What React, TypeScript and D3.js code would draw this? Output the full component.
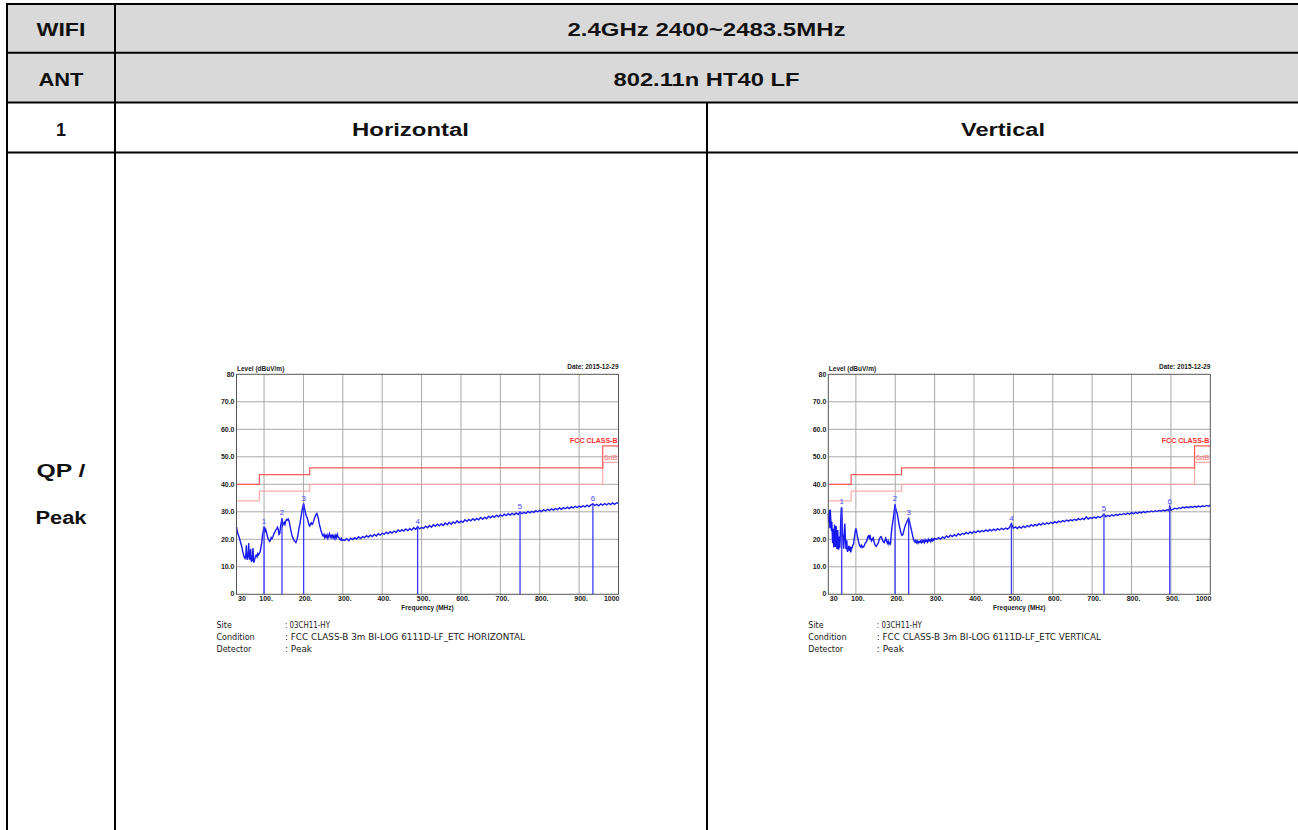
import React from "react";
import * as d3 from "d3";

// ---------- table texts ----------
const ROW_LABELS = ["WIFI", "ANT", "1"];
const BAND_TEXT = "2.4GHz 2400~2483.5MHz";
const MODE_TEXT = "802.11n HT40 LF";
const POL_TITLES = ["Horizontal", "Vertical"];
const DETECTOR_LABEL = ["QP /", "Peak"];

// ---------- chart axes ----------
const X_TICKS = [100, 200, 300, 400, 500, 600, 700, 800, 900];
const X_TICK_LABELS = ["100.", "200.", "300.", "400.", "500.", "600.", "700.", "800.", "900."];
const Y_TICKS = [10, 20, 30, 40, 50, 60, 70];
const Y_TICK_LABELS = ["10.0", "20.0", "30.0", "40.0", "50.0", "60.0", "70.0"];

// ---------- limit lines (FCC Class B) ----------
const LIMIT_FREQ = [30, 88, 216, 960, 1000];
const LIMIT_LEVEL = [40, 43.5, 46, 54, 54];
const MARGIN_LEVEL = [34, 37.5, 40, 48, 48];

// ---------- horizontal trace ----------
const H_TRACE: [number, number][] = [
  [30,24.5],[32,23.0],[34,21.8],[36,21.0],[38,20.2],[40,19.0],[42,18.0],[44,17.0],[46,15.5],[48,14.2],
  [50,13.4],[52,13.0],[54,14.8],[55,17.8],[56,13.5],[58,12.5],[60,15.6],[61,18.6],[62,14.0],[64,12.6],
  [66,16.5],[67,13.2],[68,11.8],[70,12.5],[72,16.8],[73,12.4],[74,11.5],[76,12.6],[78,13.8],[80,14.2],
  [82,13.6],[84,14.8],[86,14.3],[88,15.0],[90,15.4],[92,17.0],[94,18.6],[96,21.5],[98,23.0],[100,24.6],
  [102,22.5],[104,23.6],[106,22.6],[108,21.4],[110,20.2],[112,19.8],[114,19.2],[116,19.6],[118,20.6],[120,20.2],
  [122,20.8],[124,21.6],[126,22.4],[128,22.8],[130,23.4],[132,23.8],[134,24.4],[136,23.6],[138,21.8],[140,22.2],
  [142,24.8],[144,26.4],[145.5,27.6],[147,25.0],[149,25.6],[151,26.2],[153,25.4],[155,26.6],[157,27.2],[159,27.0],
  [161,27.4],[163,26.8],[165,25.6],[167,24.0],[169,22.6],[171,21.4],[173,20.6],[175,20.0],[177,19.4],[179,19.2],
  [181,18.8],[183,19.6],[185,20.8],[187,22.4],[189,24.2],[191,25.6],[193,27.4],[195,29.2],[197,31.0],[199,32.2],
  [200.5,33.0],[202,31.8],[204,30.4],[206,29.0],[208,28.2],[210,27.6],[212,26.4],[214,25.2],[216,24.8],[218,25.6],
  [220,26.0],[222,25.4],[224,25.8],[226,26.6],[228,27.6],[230,28.4],[232,29.0],[234,29.4],[236,28.6],[238,27.4],
  [240,25.8],[242,24.6],[244,23.4],[246,22.6],[248,21.6],[250,21.2],[252,21.8],[254,20.6],[256,21.4],[258,20.8],
  [260,21.6],[262,20.4],[264,21.2],[266,22.0],[268,20.8],[270,21.4],[272,20.6],[274,21.8],[276,20.6],[278,21.2],
  [280,20.2],[282,21.4],[284,20.6],[286,21.8],[288,20.8],[290,20.6],[292,20.0],[294,19.8],[296,20.4],[298,19.6],
  [300,19.8],[305,19.6],[310,20.2],[315,19.5],[320,20.4],[325,19.9],[330,20.6],[335,20.1],[340,20.9],[345,20.3],
  [350,21.0],[355,20.6],[360,21.3],[365,20.8],[370,21.5],[375,21.0],[380,21.8],[385,21.2],[390,22.0],[395,21.5],
  [400,22.2],[405,21.8],[410,22.6],[415,22.0],[420,22.8],[425,22.3],[430,23.0],[435,22.5],[440,23.4],[445,22.8],
  [450,23.5],[455,23.0],[460,23.8],[465,23.2],[470,23.9],[475,23.4],[480,24.2],[485,23.6],[490,24.6],[495,23.8],
  [500,24.3],[505,24.0],[510,24.8],[515,24.2],[520,25.0],[525,24.4],[530,25.3],[535,24.7],[540,25.5],[545,24.9],
  [550,25.6],[555,25.0],[560,25.9],[565,25.3],[570,26.2],[575,25.5],[580,26.3],[585,25.8],[590,26.7],[595,26.0],
  [600,26.6],[605,26.2],[610,27.1],[615,26.5],[620,27.2],[625,26.7],[630,27.5],[635,26.9],[640,27.6],[645,27.1],
  [650,27.9],[655,27.3],[660,28.0],[665,27.5],[670,28.4],[675,27.8],[680,28.5],[685,28.0],[690,28.8],[695,28.2],
  [700,28.9],[705,28.4],[710,29.1],[715,28.6],[720,29.3],[725,28.8],[730,29.4],[735,28.9],[740,29.6],[745,29.0],
  [750,29.9],[755,29.3],[760,29.8],[765,29.4],[770,30.1],[775,29.6],[780,30.2],[785,29.8],[790,30.4],[795,30.0],
  [800,30.5],[805,30.1],[810,30.8],[815,30.3],[820,30.9],[825,30.5],[830,31.1],[835,30.6],[840,31.2],[845,30.8],
  [850,31.4],[855,30.9],[860,31.5],[865,31.1],[870,31.7],[875,31.2],[880,31.8],[885,31.4],[890,32.0],[895,31.5],
  [900,32.1],[905,31.7],[910,32.2],[915,31.8],[920,32.4],[925,31.9],[930,32.5],[935,32.9],[940,32.3],[945,32.7],
  [950,32.2],[955,32.9],[960,32.4],[965,33.0],[970,32.5],[975,33.1],[980,32.6],[985,33.2],[990,32.7],[995,33.3],
  [1000,33.0],
];
const H_MARKERS: [number, number][] = [[100,24.6],[145.5,27.6],[200.5,33.0],[490,24.6],[750,29.9],[935,32.9]];

// ---------- vertical trace ----------
const V_TRACE: [number, number][] = [
  [30,29.4],[31,26.0],[32,30.6],[33,27.0],[34,24.0],[35,30.8],[36,28.2],[37,25.6],[38,23.0],[39,26.4],
  [40,22.2],[41,18.6],[42,23.8],[43,20.4],[44,17.0],[45,21.8],[46,25.4],[47,19.6],[48,17.2],[49,22.6],
  [50,24.8],[51,18.4],[52,16.4],[53,20.6],[54,23.4],[55,18.6],[56,16.2],[57,21.0],[58,18.2],[59,16.8],
  [60,19.4],[61,24.2],[62,28.6],[63,31.3],[64,31.6],[65,27.0],[66,22.2],[67,20.8],[68,18.0],[69,16.6],
  [70,19.8],[71,23.6],[72,25.7],[73,22.0],[74,18.6],[75,16.4],[76,17.8],[77,19.6],[78,16.2],[79,15.4],
  [80,16.8],[81,16.0],[82,17.6],[83,16.4],[84,15.8],[85,17.4],[86,16.2],[87,15.2],[88,16.0],[89,17.2],
  [90,16.6],[92,17.8],[94,18.2],[96,20.4],[98,22.4],[100,24.0],[102,22.8],[104,21.0],[106,19.8],[108,18.4],
  [110,17.6],[112,17.2],[114,17.8],[116,17.0],[118,17.4],[120,17.2],[122,18.0],[124,18.6],[126,19.0],[128,19.6],
  [130,20.8],[132,21.2],[134,20.4],[136,21.6],[138,20.0],[140,19.4],[142,20.2],[144,20.6],[146,19.2],[148,18.2],
  [150,17.6],[152,17.4],[154,18.0],[156,18.4],[158,19.2],[160,20.2],[162,20.8],[164,21.0],[166,20.4],[168,19.6],
  [170,19.0],[172,18.8],[174,19.6],[176,20.4],[178,19.4],[180,18.6],[182,19.4],[184,18.2],[186,18.8],[188,18.4],
  [190,22.0],[192,24.6],[194,26.6],[196,28.6],[198,31.0],[199.5,32.7],[201,31.4],[203,30.2],[205,29.4],[207,27.6],
  [209,26.0],[211,24.6],[213,23.2],[215,22.2],[217,21.4],[219,21.6],[221,22.6],[223,23.8],[225,24.8],[227,25.6],
  [229,26.2],[231,26.8],[233,27.4],[234,27.6],[236,26.6],[238,25.2],[240,24.0],[242,22.8],[244,21.4],[246,20.2],
  [248,19.4],[250,19.0],[252,19.6],[254,18.8],[256,19.4],[258,18.6],[260,19.2],[262,18.9],[264,19.4],[266,18.8],
  [268,19.6],[270,19.0],[272,19.5],[274,18.8],[276,19.8],[278,19.2],[280,19.6],[282,19.0],[284,20.0],[286,19.4],
  [288,19.8],[290,19.2],[292,20.1],[294,19.5],[296,20.2],[298,19.7],[300,20.3],
  [305,20.0],[310,20.6],[315,20.1],[320,20.9],[325,20.4],[330,21.2],[335,20.7],[340,21.5],[345,21.0],
  [350,21.7],[355,21.2],[360,22.0],[365,21.5],[370,22.2],[375,21.8],[380,22.5],[385,22.0],[390,22.7],[395,22.2],
  [400,22.9],[405,22.4],[410,23.1],[415,22.6],[420,23.2],[425,22.8],[430,23.4],[435,22.9],[440,23.6],[445,23.1],
  [450,23.7],[455,23.2],[460,23.9],[465,23.4],[470,24.0],[475,23.5],[480,24.1],[485,23.7],[490,24.3],[495,25.7],
  [500,24.0],[505,24.5],[510,23.9],[515,24.6],[520,24.1],[525,24.8],[530,24.3],[535,25.0],[540,24.5],[545,25.3],
  [550,24.8],[555,25.4],[560,25.0],[565,25.7],[570,25.2],[575,25.9],[580,25.4],[585,26.0],[590,25.6],[595,26.2],
  [600,25.8],[605,26.4],[610,26.0],[615,26.6],[620,26.2],[625,26.8],[630,26.4],[635,27.0],[640,26.6],[645,27.1],
  [650,26.8],[655,27.3],[660,26.9],[665,27.5],[670,27.1],[675,27.6],[680,27.2],[685,28.2],[690,27.4],[695,27.9],
  [700,27.6],[705,28.1],[710,27.7],[715,28.3],[720,27.9],[725,28.4],[730,29.2],[735,28.2],[740,28.7],[745,28.3],
  [750,28.9],[755,28.5],[760,29.1],[765,28.7],[770,29.2],[775,28.9],[780,29.4],[785,29.0],[790,29.5],[795,29.1],
  [800,29.7],[805,29.3],[810,29.8],[815,29.4],[820,29.9],[825,29.6],[830,30.1],[835,29.7],[840,30.2],[845,29.9],
  [850,30.3],[855,30.0],[860,30.4],[865,30.1],[870,30.5],[875,30.2],[880,30.6],[885,30.3],[890,30.7],[895,30.4],
  [897,31.9],[900,30.6],[905,30.9],[910,31.3],[915,31.0],[920,31.5],[925,31.2],[930,31.7],[935,31.4],[940,31.8],
  [945,31.5],[950,31.9],[955,31.6],[960,32.0],[965,31.7],[970,32.1],[975,31.8],[980,32.2],[985,31.9],[990,32.3],
  [995,32.0],[1000,32.4],
];
const V_MARKERS: [number, number][] = [[64,31.6],[199.5,32.7],[234,27.6],[495,25.7],[730,29.2],[897,31.9]];

const INFO_LABELS = ["Site", "Condition", "Detector"];
const H_INFO = [": 03CH11-HY", ": FCC CLASS-B 3m BI-LOG 6111D-LF_ETC HORIZONTAL", ": Peak"];
const V_INFO = [": 03CH11-HY", ": FCC CLASS-B 3m BI-LOG 6111D-LF_ETC VERTICAL", ": Peak"];
const DATE_TEXT = "Date: 2015-12-29";

// measured text widths (layout)
const H_INFO_WIDTH = [45, 240, 27];
const V_INFO_WIDTH = [45, 224, 27];

const SANS = "'Liberation Sans', Arial, Helvetica, sans-serif";

function Chart({ ox, trace, markers, info, infoW }: { ox: number; trace: [number, number][]; markers: [number, number][]; info: string[]; infoW: number[] }) {
  const left = ox, right = ox + 382, top = 374.3, bottom = 594.3;
  const x = d3.scaleLinear().domain([30, 1000]).range([left, right]);
  const y = d3.scaleLinear().domain([0, 80]).range([bottom, top]);
  const line = d3.line<[number, number]>().x(d => x(d[0])).y(d => y(d[1]));
  const step = d3.line<number>().x((_, i) => x(LIMIT_FREQ[i])).curve(d3.curveStepAfter);
  const limitPath = step.y(d => y(d))(LIMIT_LEVEL);
  const marginPath = step.y(d => y(d))(MARGIN_LEVEL);
  const small = { fontFamily: SANS, fontSize: 7, fontWeight: 700, fill: "#222" } as const;
  const infoFont = "'DejaVu Sans', sans-serif";
  return (
    <g>
      {Y_TICKS.map(t => (
        <line key={"gy" + t} x1={left} x2={right} y1={y(t)} y2={y(t)} stroke="#a9a9a9" strokeWidth={1} />
      ))}
      {X_TICKS.map(t => (
        <line key={"gx" + t} x1={x(t)} x2={x(t)} y1={top} y2={bottom} stroke="#a9a9a9" strokeWidth={1} />
      ))}
      <path d={marginPath || ""} fill="none" stroke="#ffaaaa" strokeWidth={1.2} />
      <path d={limitPath || ""} fill="none" stroke="#ff5a5a" strokeWidth={1.2} />
      <path d={line(trace) || ""} fill="none" stroke="#1818f0" strokeWidth={1.4} />
      {markers.map((m, i) => (
        <g key={"m" + i}>
          <line x1={x(m[0])} x2={x(m[0])} y1={y(m[1])} y2={bottom} stroke="#3a3aff" strokeWidth={1.3} />
          <text x={x(m[0])} y={y(m[1]) - 3} textAnchor="middle" fontFamily={SANS} fontSize={8} fill="#4646ff">{i + 1}</text>
        </g>
      ))}
      <rect x={left} y={top} width={right - left} height={bottom - top} fill="none" stroke="#555" strokeWidth={1} />
      {Y_TICKS.map((t, i) => (
        <text key={"ly" + t} x={left - 2} y={y(t)} dy="0.35em" textAnchor="end" {...small}>{Y_TICK_LABELS[i]}</text>
      ))}
      <text x={left - 2} y={top + 3} textAnchor="end" {...small}>80</text>
      <text x={left - 2} y={bottom + 2} textAnchor="end" {...small}>0</text>
      <text x={left + 0.5} y={top - 3} {...small} fontSize={6.5}>Level (dBuV/m)</text>
      <text x={right} y={top - 5} textAnchor="end" {...small} fontSize={6.5}>{DATE_TEXT}</text>
      <text x={left + 1.5} y={bottom + 7} {...small}>30</text>
      {X_TICKS.map((t, i) => (
        <text key={"lx" + t} x={x(t) + 2} y={bottom + 7} textAnchor="middle" {...small}>{X_TICK_LABELS[i]}</text>
      ))}
      <text x={right + 1} y={bottom + 7} textAnchor="end" {...small}>1000</text>
      <text x={(left + right) / 2} y={bottom + 15.5} textAnchor="middle" {...small} fontSize={6.5}>Frequency (MHz)</text>
      <text x={right - 1} y={y(54) - 3} textAnchor="end" fontFamily={SANS} fontSize={7} fontWeight={700} fill="#ff2a2a">FCC CLASS-B</text>
      <text x={right - 1} y={y(48) - 2} textAnchor="end" fontFamily={SANS} fontSize={7.5} fill="#ff7070">6dB</text>
      {INFO_LABELS.map((l, i) => (
        <g key={"inf" + i}>
          <text x={left - 20} y={628 + i * 11.8} fontFamily={infoFont} fontSize={8} fill="#222">{l}</text>
          <text x={left + 48.5} y={628 + i * 11.8} fontFamily={infoFont} fontSize={8} fill="#222"
            textLength={infoW[i]} lengthAdjust="spacingAndGlyphs">{info[i]}</text>
        </g>
      ))}
    </g>
  );
}

function Cell({ x, y, w, text }: { x: number; y: number; w: number; text: string }) {
  return (
    <text x={x - w / 2} y={y} textLength={w} lengthAdjust="spacingAndGlyphs"
      fontFamily={SANS} fontWeight={700} fontSize={17.5} fill="#111">{text}</text>
  );
}

export default function App() {
  const W = 1298, H = 830;
  const rowsY = [4, 52.7, 102.5, 152.5];
  return (
    <svg width={W} height={H} style={{ position: "absolute", left: 0, top: 0, display: "block", background: "#fff" }}>
      <rect x={7} y={4} width={W - 7} height={98.5} fill="#d9d9d9" />
      <Chart ox={236.5} trace={H_TRACE} markers={H_MARKERS} info={H_INFO} infoW={H_INFO_WIDTH} />
      <Chart ox={828.3} trace={V_TRACE} markers={V_MARKERS} info={V_INFO} infoW={V_INFO_WIDTH} />
      {rowsY.map((r, i) => (
        <line key={"r" + i} x1={6} x2={W} y1={r} y2={r} stroke="#000" strokeWidth={2} />
      ))}
      <line x1={7} x2={7} y1={3} y2={H} stroke="#000" strokeWidth={2} />
      <line x1={115} x2={115} y1={3} y2={H} stroke="#000" strokeWidth={2} />
      <line x1={707} x2={707} y1={102.5} y2={H} stroke="#000" strokeWidth={2} />
      <Cell x={61} y={36} w={49} text={ROW_LABELS[0]} />
      <Cell x={61} y={85.5} w={45} text={ROW_LABELS[1]} />
      <Cell x={61} y={135.5} w={10} text={ROW_LABELS[2]} />
      <Cell x={706.5} y={36} w={278} text={BAND_TEXT} />
      <Cell x={706.5} y={85.5} w={186} text={MODE_TEXT} />
      <Cell x={410.5} y={135.5} w={117} text={POL_TITLES[0]} />
      <Cell x={1003} y={135.5} w={84} text={POL_TITLES[1]} />
      <Cell x={61} y={476.5} w={49} text={DETECTOR_LABEL[0]} />
      <Cell x={61} y={523.5} w={51} text={DETECTOR_LABEL[1]} />
    </svg>
  );
}
